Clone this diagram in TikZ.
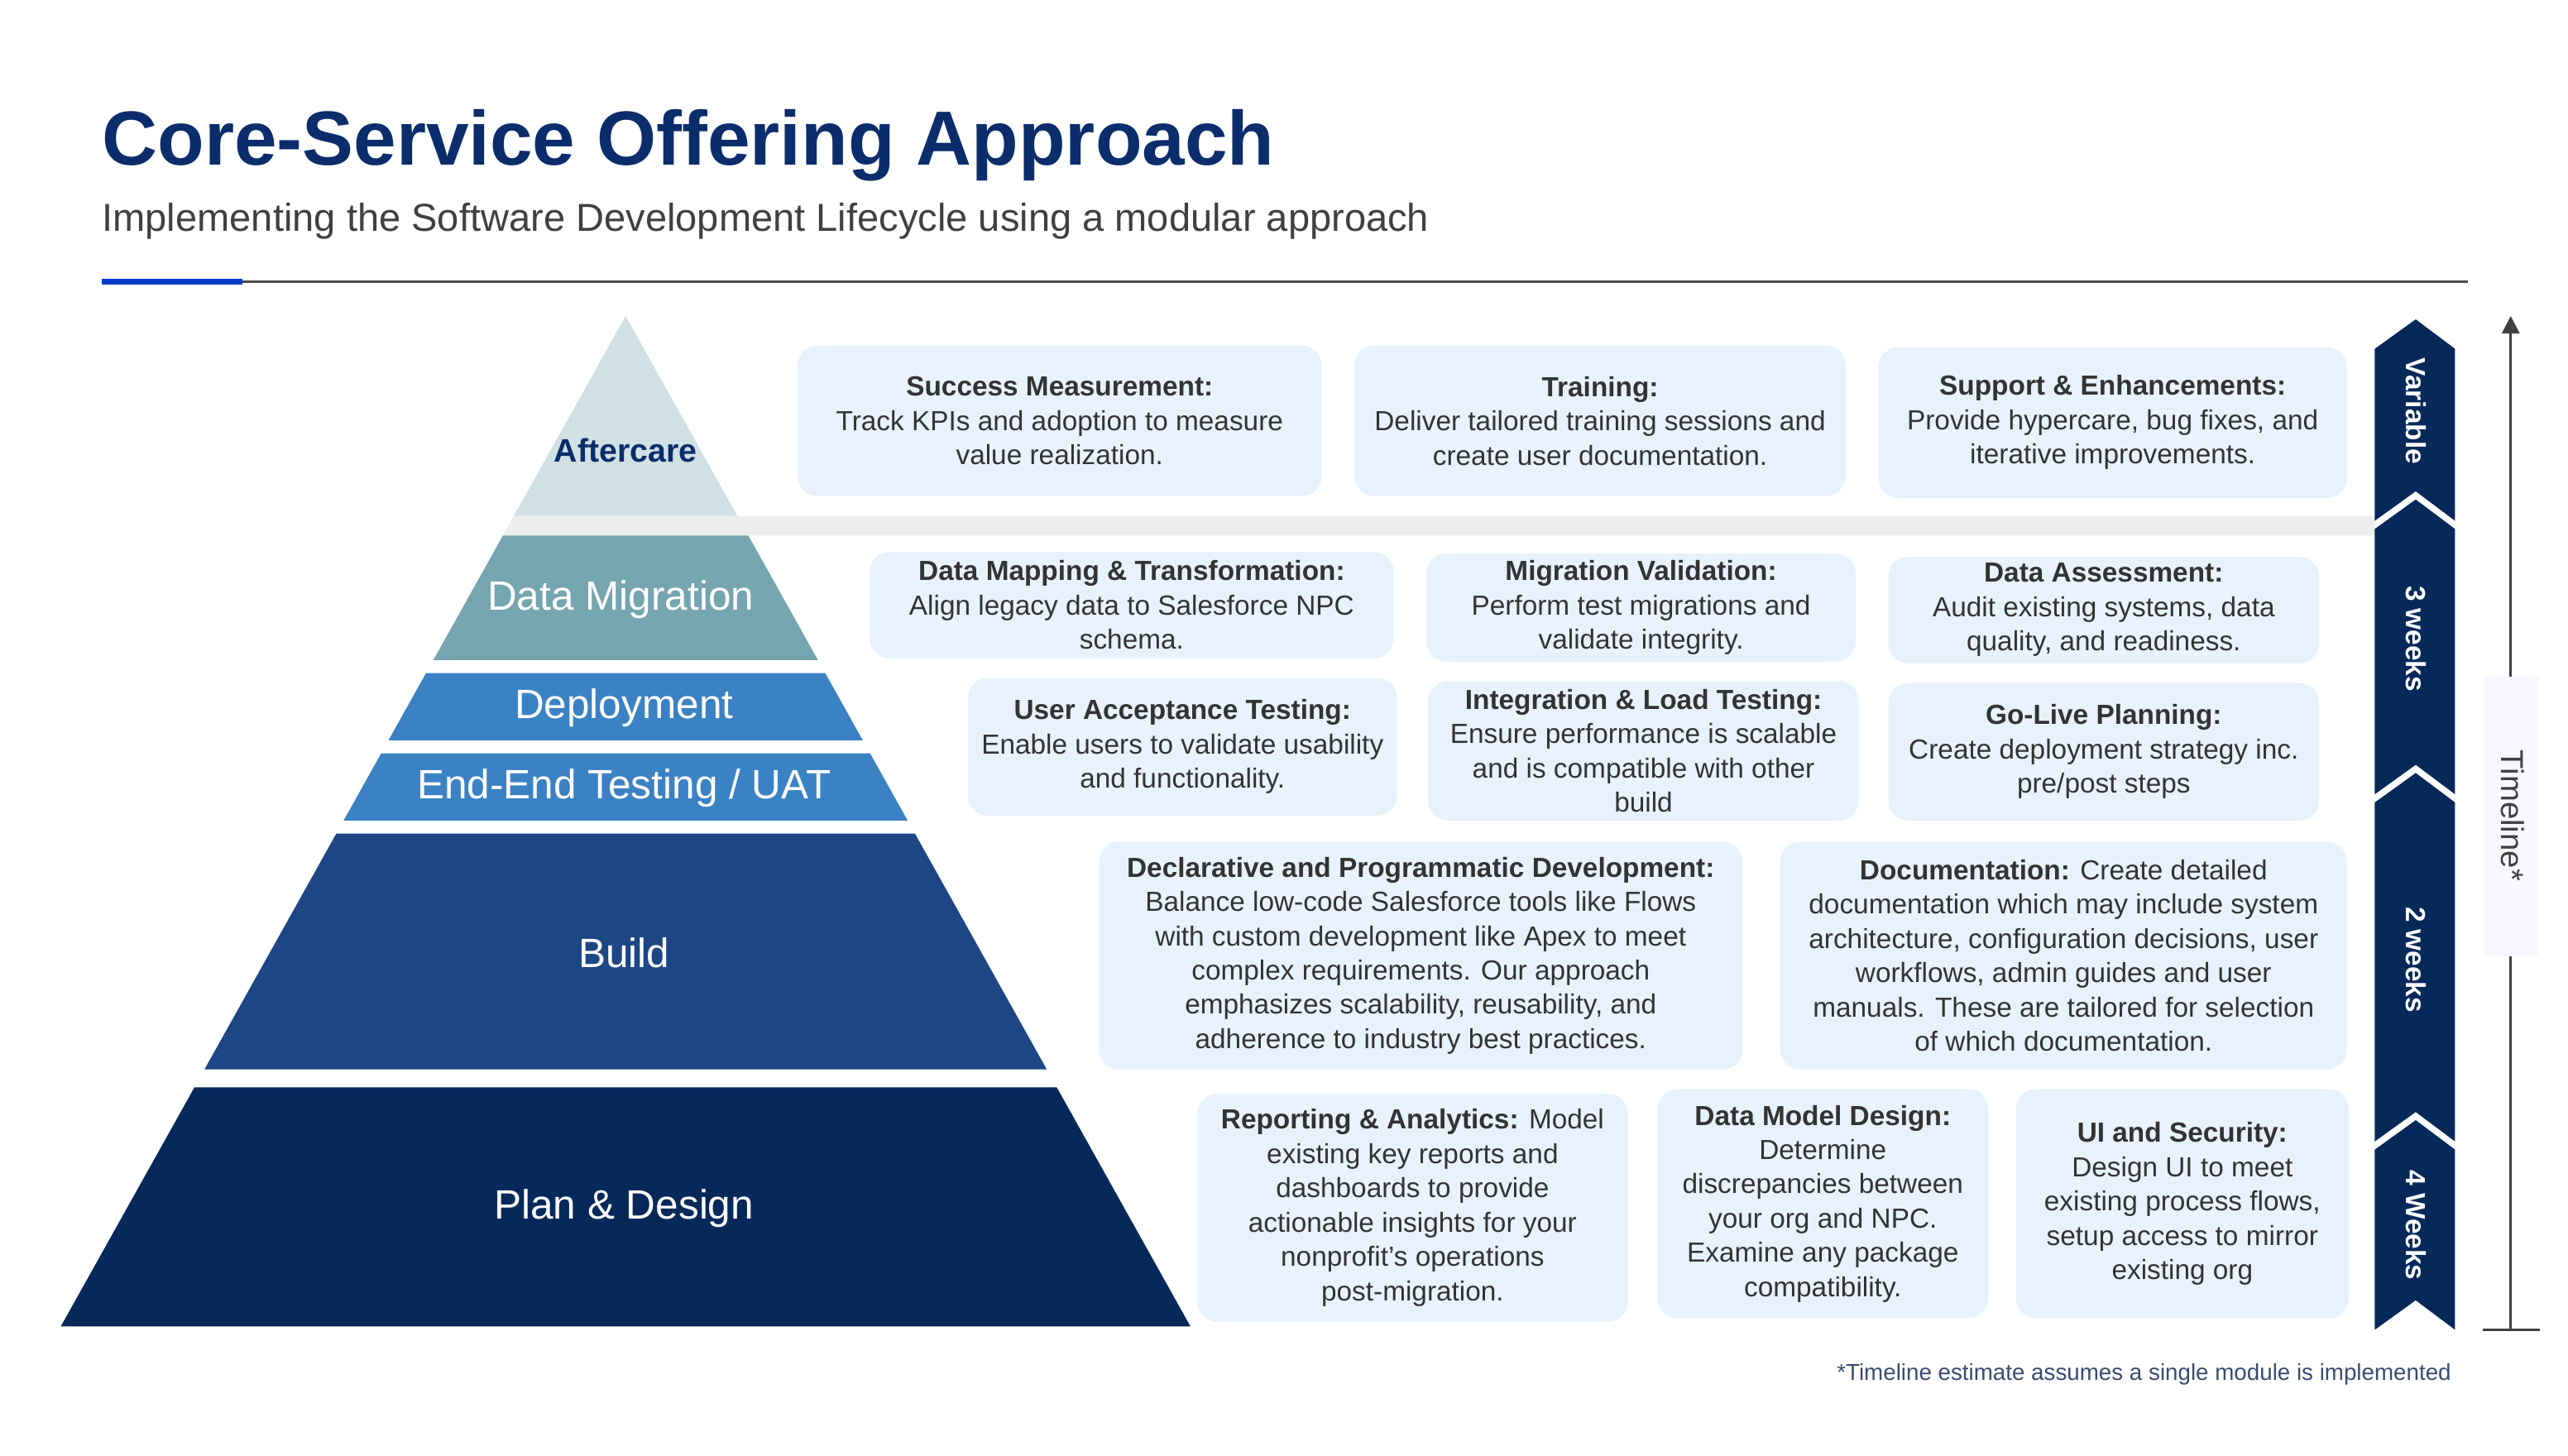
\documentclass[tikz,border=0pt]{standalone}
\usepackage{fontspec}
\setmainfont{Liberation Sans}
\usetikzlibrary{arrows.meta}
\definecolor{navy}{HTML}{0B2D6B}
\definecolor{cardbg}{HTML}{E8F2FC}
\definecolor{cardtxt}{HTML}{333333}
\definecolor{aft}{HTML}{D0E0E3}
\definecolor{dmig}{HTML}{75A5AE}
\definecolor{dep}{HTML}{3B82C4}
\definecolor{bld}{HTML}{1D4685}
\definecolor{pln}{HTML}{06295A}
\definecolor{chev}{HTML}{06295A}
\definecolor{bandgray}{HTML}{EEEEEE}
\tikzset{
 card/.style={fill=cardbg, rounded corners=0.24cm, inner sep=0pt, align=center, text=cardtxt,
   font=\fontsize{9.5}{11.8}\selectfont},
 plabel/.style={text=white, font=\fontsize{14.1}{16}\selectfont},
 chevtxt/.style={text=white, font=\bfseries\fontsize{9.5}{11}\selectfont, rotate=-90},
}
\newcommand\card[6]{\node[card, minimum width={(#4-#2)*0.0198cm}, minimum height={(#5-#3)*0.0198cm}] (#1) at ({(#2+#4)/2},{(#3+#5)/2+1}) {#6};}
\newcommand\band[4]{\fill[#3] ({382-0.559*(#1-193)},#1) -- ({382+0.559*(#1-193)},#1) -- ({382+0.559*(#2-193)},#2) -- ({382-0.559*(#2-193)},#2) -- cycle;}
\begin{document}
\begin{tikzpicture}[x=0.0198cm,y=-0.0198cm]
\useasboundingbox[fill=white] (0,0) rectangle (1568,889);
% title
\node[anchor=base west, inner sep=0, text=navy, font=\bfseries\fontsize{26.4}{30}\selectfont] (title) at (62,101) {Core-Service Offering Approach};
\node[anchor=base west, inner sep=0, text=black!75, font=\fontsize{13.4}{15}\selectfont] (sub) at (62,141) {Implementing the Software Development Lifecycle using a modular approach};
\draw[black!70, line width=0.6pt] (148,172) -- (1507,172);
\draw[blue!70!cyan!80!black, line width=2.2pt] (62,172) -- (148,172);
% pyramid
\fill[aft] (382,193) -- ({382+0.559*(315-193)},315) -- ({382-0.559*(315-193)},315) -- cycle;
\fill[bandgray] ({382-0.559*(315-193)},315) -- (1450,315) -- (1450,327) -- ({382-0.559*(327-193)},327) -- cycle;
\band{327}{403}{dmig}{}
\band{411}{452}{dep}{}
\band{460}{501}{dep}{}
\band{509}{653}{bld}{}
\band{664}{810}{pln}{}
\node[text=navy, font=\bfseries\fontsize{11.2}{13}\selectfont] (aftl) at (382,275) {Aftercare};
\node[plabel] (dml) at (379,366) {Data Migration};
\node[plabel] (depl) at (381,432) {Deployment};
\node[plabel] (uatl) at (381,481) {End-End Testing / UAT};
\node[plabel] (bldl) at (381,582) {Build};
\node[plabel] (plnl) at (381,738) {Plan \& Design};
% cards
\card{c1}{487}{210}{807}{302}{\textbf{Success Measurement:}\\Track KPIs and adoption to measure\\value realization.}
\card{c2}{827}{210}{1127}{302}{\textbf{Training:}\\Deliver tailored training sessions and\\create user documentation.}
\card{c3}{1147}{211}{1433}{303}{\textbf{Support \& Enhancements:}\\Provide hypercare, bug fixes, and\\iterative improvements.}
\card{c4}{531}{336}{851}{401}{\textbf{Data Mapping \& Transformation:}\\Align legacy data to Salesforce NPC\\schema.}
\card{c5}{871}{337}{1133}{403}{\textbf{Migration Validation:}\\Perform test migrations and\\validate integrity.}
\card{c6}{1153}{339}{1416}{404}{\textbf{Data Assessment:}\\Audit existing systems, data\\quality, and readiness.}
\card{c7}{591}{413}{853}{497}{\textbf{User Acceptance Testing:}\\Enable users to validate usability\\and functionality.}
\card{c8}{872}{415}{1135}{500}{\textbf{Integration \& Load Testing:}\\Ensure performance is scalable\\and is compatible with other\\build}
\card{c9}{1153}{416}{1416}{500}{\textbf{Go-Live Planning:}\\Create deployment strategy inc.\\pre/post steps}
\card{c10}{671}{513}{1064}{652}{\textbf{Declarative and Programmatic Development:}\\Balance low-code Salesforce tools like Flows\\with custom development like Apex to meet\\complex requirements. Our approach\\emphasizes scalability, reusability, and\\adherence to industry best practices.}
\card{c11}{1087}{513}{1433}{652}{\textbf{Documentation:} Create detailed\\documentation which may include system\\architecture, configuration decisions, user\\workflows, admin guides and user\\manuals. These are tailored for selection\\of which documentation.}
\card{c12}{731}{667}{994}{806}{\textbf{Reporting \& Analytics:} Model\\existing key reports and\\dashboards to provide\\actionable insights for your\\nonprofit’s operations\\post-migration.}
\card{c13}{1012}{664}{1214}{804}{\textbf{Data Model Design:}\\Determine\\discrepancies between\\your org and NPC.\\Examine any package\\compatibility.}
\card{c14}{1231}{664}{1434}{804}{\textbf{UI and Security:}\\Design UI to meet\\existing process flows,\\setup access to mirror\\existing org}
% chevrons
\fill[chev] (1475,195) -- (1499,213) -- (1499,318) -- (1475,300) -- (1450,318) -- (1450,213) -- cycle;
\fill[chev] (1475,305) -- (1499,323) -- (1499,485) -- (1475,467) -- (1450,485) -- (1450,323) -- cycle;
\fill[chev] (1475,472) -- (1499,490) -- (1499,697) -- (1475,679) -- (1450,697) -- (1450,490) -- cycle;
\fill[chev] (1475,684) -- (1499,702) -- (1499,812) -- (1475,794) -- (1450,812) -- (1450,702) -- cycle;
\node[chevtxt] (v1) at (1475,251) {Variable};
\node[chevtxt] (v2) at (1475,390) {3 weeks};
\node[chevtxt] (v3) at (1475,586) {2 weeks};
\node[chevtxt] (v4) at (1475,748) {4 Weeks};
% timeline
\coordinate (tb) at (1533,812);
\coordinate (tt) at (1533,193);
\coordinate (bl) at (1516,812);
\coordinate (br) at (1551,812);
\draw[black!75, line width=0.9pt, -{Triangle[length=6pt,width=6pt]}] (tb) -- (tt);
\draw[black!75, line width=0.9pt] (bl) -- (br);
\fill[blue!3] (1517,413) rectangle (1550,584);
\node[rotate=-90, inner sep=0pt, text=black!75, font=\fontsize{10.9}{12}\selectfont] (tl) at (1534,498) {Timeline*};
% footnote
\node[anchor=base east, inner sep=0, text=navy!70!black!80, font=\fontsize{7.9}{9}\selectfont] (foot) at (1497,843) {*Timeline estimate assumes a single module is implemented};
\end{tikzpicture}
\end{document}
